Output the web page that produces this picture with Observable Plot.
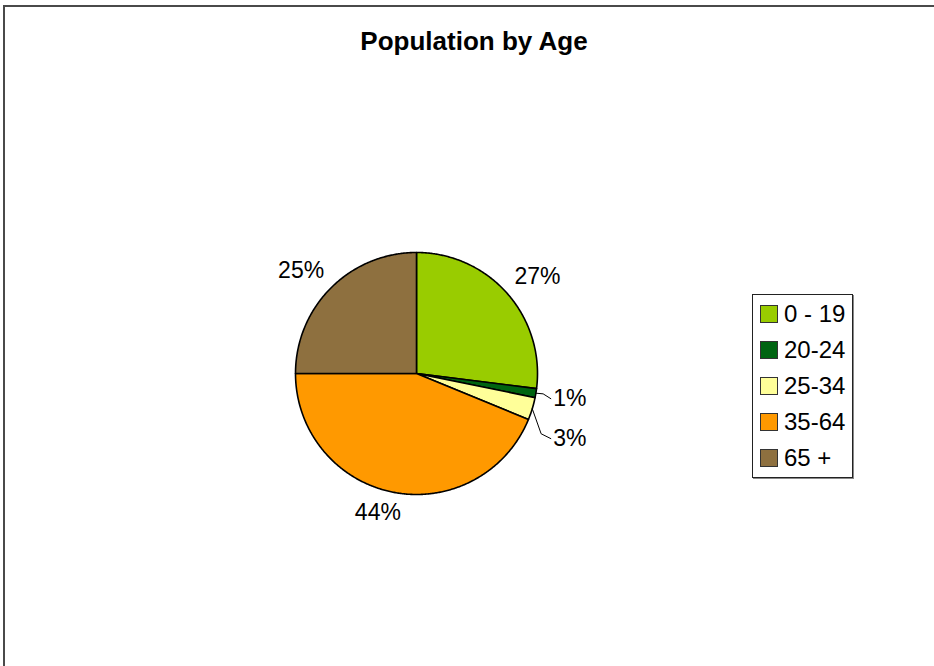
<!DOCTYPE html>
<html>
<head>
<meta charset="utf-8">
<script src="https://cdn.jsdelivr.net/npm/d3@7"></script>
<script src="https://cdn.jsdelivr.net/npm/@observablehq/plot@0.6"></script>
<style>
  html, body { margin: 0; padding: 0; background: #fff; font-family: "Liberation Sans", Arial, sans-serif; overflow: hidden; }
  #page { position: relative; width: 934px; height: 666px; overflow: hidden; }
  #frameL { position: absolute; left: 3px; top: 5px; width: 2px; height: 700px; background: #4a4a4a; }
  #frameT { position: absolute; left: 3px; top: 5px; width: 960px; height: 2px; background: #4a4a4a; }
  #title { position: absolute; left: 0; top: 26px; width: 948px; text-align: center; font-weight: bold; font-size: 26px; line-height: 30px; color: #000; }
  #chart { position: absolute; left: 0; top: 0; }
  #legend { position: absolute; left: 752px; top: 294px; width: 99px; height: 181px; border: 1px solid #222; box-shadow: 1px 1px 0 #888; background: #fff; padding-top: 1px; box-sizing: content-box; }
  .row { height: 36px; display: flex; align-items: center; }
  .sw { width: 16px; height: 16px; border: 1px solid #333; margin-left: 7px; margin-right: 6px; flex: none; }
  .lt { font-size: 24px; line-height: 24px; color: #000; white-space: pre; }
</style>
</head>
<body>
<div id="page">
<div id="frameL"></div>
<div id="frameT"></div>
<div id="title">Population by Age</div>
<div id="chart"></div>
<div id="legend"></div>
</div>
<script>
const categories = ["0 - 19", "20-24", "25-34", "35-64", "65 +"];
const values = [27, 1.2, 3, 43.8, 25];
const colors = ["#99CC00", "#006411", "#FFFF99", "#FF9900", "#8E703F"];

const total = d3.sum(values);
const pie = d3.pie().sort(null).value(d => d.value);
const arcs = pie(categories.map((c, i) => ({label: c, value: values[i]})));

// slice polygons in unit coordinates (angle measured clockwise from 12 o'clock)
const pt = (a, r) => ({x: r * Math.sin(a), y: r * Math.cos(a)});
const polys = [];
for (const a of arcs) {
  const lab = a.data.label;
  polys.push({label: lab, ...pt(0, 0)});
  const n = Math.max(2, Math.ceil((a.endAngle - a.startAngle) / (Math.PI / 360)));
  for (let k = 0; k <= n; k++) {
    const t = a.startAngle + (a.endAngle - a.startAngle) * k / n;
    polys.push({label: lab, ...pt(t, 1)});
  }
  polys.push({label: lab, ...pt(0, 0)});
}

// labels: outside the pie; small slices get a leader line
const bigLabels = [];
const smallLabels = [];
const leaders = [];
let lastSmallY = null;
const hw = 0.19, hh = 0.09, gap = 0.08;
for (const a of arcs) {
  const mid = (a.startAngle + a.endAngle) / 2;
  const pct = Math.round(a.data.value / total * 100) + "%";
  const share = a.data.value / total;
  if (share < 0.05) {
    const p = pt(mid, 1.28);
    let y = p.y;
    if (lastSmallY !== null && lastSmallY - y < 0.3) y = lastSmallY - 0.33;
    lastSmallY = y;
    const xs = 1.13;
    smallLabels.push({x: xs, y, text: pct});
    const e = pt(mid, 1.0);
    const kneeY = y + 0.04;
    const kneeX = Math.abs(kneeY - e.y) > 0.1 ? 1.03 : e.x + 0.06;
    leaders.push({id: pct, x: e.x, y: e.y});
    leaders.push({id: pct, x: kneeX, y: kneeY});
    leaders.push({id: pct, x: xs - 0.02, y: y});
  } else {
    const d = pt(mid, 1 + gap);
    const sx = Math.sin(mid), sy = Math.cos(mid);
    bigLabels.push({
      x: d.x + hw * Math.sign(sx) * Math.min(1, Math.abs(sx) * 3),
      y: d.y + hh * Math.sign(sy) * Math.min(1, Math.abs(sy) * 3),
      text: pct
    });
  }
}

const cx = 416, cy = 373, R = 121;
const chart = Plot.plot({
  width: 900,
  height: 640,
  x: {domain: [-1, 1], range: [cx - R, cx + R], axis: null},
  y: {domain: [-1, 1], range: [cy + R, cy - R], axis: null},
  color: {domain: categories, range: colors},
  style: {background: "transparent", overflow: "visible", fontFamily: "Liberation Sans, Arial, sans-serif"},
  marks: [
    Plot.line(polys, {x: "x", y: "y", z: "label", fill: "label", stroke: "#000", strokeWidth: 1.6, strokeLinejoin: "round", curve: "linear"}),
    Plot.line(leaders, {x: "x", y: "y", z: "id", stroke: "#000", strokeWidth: 1}),
    Plot.text(bigLabels, {x: "x", y: "y", text: "text", textAnchor: "middle", fontSize: 23, fill: "#000"}),
    Plot.text(smallLabels, {x: "x", y: "y", text: "text", textAnchor: "start", fontSize: 23, fill: "#000"})
  ]
});
document.getElementById("chart").appendChild(chart);

// legend
const legend = document.getElementById("legend");
categories.forEach((c, i) => {
  const row = document.createElement("div");
  row.className = "row";
  const sw = document.createElement("div");
  sw.className = "sw";
  sw.style.background = colors[i];
  const t = document.createElement("span");
  t.className = "lt";
  t.textContent = c;
  row.appendChild(sw);
  row.appendChild(t);
  legend.appendChild(row);
});
</script>
</body>
</html>
